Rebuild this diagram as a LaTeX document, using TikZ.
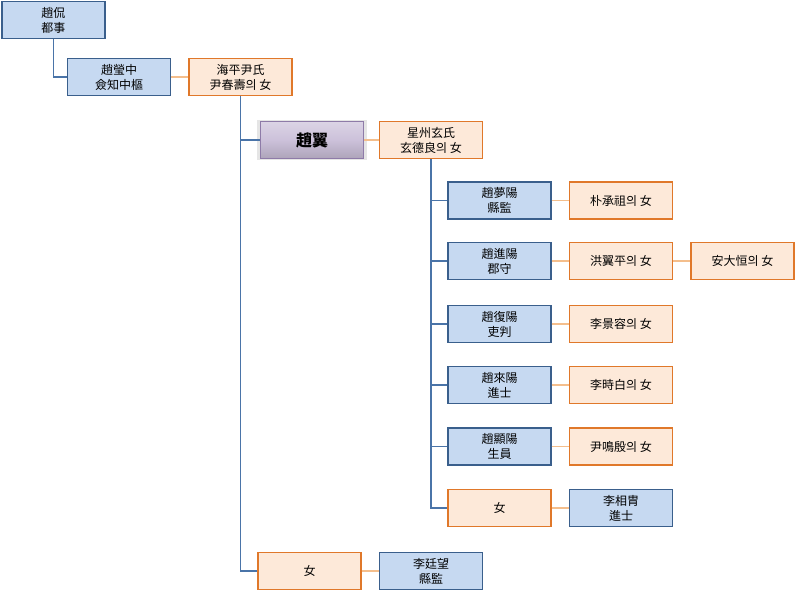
\documentclass[tikz,border=0pt]{standalone}
\usepackage{fontspec}
\setmainfont{Noto Sans CJK KR}
\usetikzlibrary{shadows,calc}
\definecolor{bfill}{HTML}{C6D9F1}
\definecolor{bdraw}{HTML}{3A5F8C}
\definecolor{ofill}{HTML}{FDE9D9}
\definecolor{odraw}{HTML}{E0782A}
\definecolor{bline}{HTML}{4A74A8}
\definecolor{oline}{HTML}{F4BE8C}
\definecolor{pfill}{HTML}{CCC1DA}
\definecolor{pdraw}{HTML}{8E7BA8}
\tikzset{
  box/.style={minimum width=103pt, minimum height=37pt, align=center, inner sep=1pt,
    font=\fontsize{12}{15}\selectfont, line width=1.4pt},
  bbox/.style={box, fill=bfill, draw=bdraw},
  obox/.style={box, fill=ofill, draw=odraw},
  pbox/.style={box, top color=pfill!70!white, bottom color=pfill!85!black, middle color=pfill, draw=pdraw,
    font=\fontsize{16}{18}\selectfont\bfseries, line width=1.4pt,
    drop shadow={shadow xshift=0pt, shadow yshift=0pt, opacity=0.25, fill=black!40, shadow scale=1.06}},
  bl/.style={draw=bline, line width=1.6pt},
  ol/.style={draw=oline, line width=1.6pt},
}
\begin{document}
\begin{tikzpicture}[x=1pt,y=-1pt]
\useasboundingbox[fill=white] (0,0) rectangle (796,591);
\node[bbox] (kan) at (53.5,20) {趙侃\\都事};
\node[bbox] (yeong) at (119,77) {趙瑩中\\僉知中樞};
\node[obox] (yun) at (240.5,77) {海平尹氏\\尹春壽의 女};
\node[pbox] (ik) at (312,140) {趙翼};
\node[obox] (hyeon) at (431,140) {星州玄氏\\玄德良의 女};
\node[bbox] (c1) at (499.5,200.5) {趙夢陽\\縣監};
\node[obox] (s1) at (621,200.5) {朴承祖의 女};
\node[bbox] (c2) at (499.5,261) {趙進陽\\郡守};
\node[obox] (s2) at (621,261) {洪翼平의 女};
\node[obox] (s2b) at (742.5,261) {安大恒의 女};
\node[bbox] (c3) at (499.5,324) {趙復陽\\吏判};
\node[obox] (s3) at (621,324) {李景容의 女};
\node[bbox] (c4) at (499.5,385) {趙來陽\\進士};
\node[obox] (s4) at (621,385) {李時白의 女};
\node[bbox] (c5) at (499.5,446.5) {趙顯陽\\生員};
\node[obox] (s5) at (621,446.5) {尹鳴殷의 女};
\node[obox] (c6) at (499.5,508) {女};
\node[bbox] (s6) at (621,508) {李相胄\\進士};
\node[obox] (d) at (309.5,571) {女};
\node[bbox] (sd) at (431,571) {李廷望\\縣監};
% connectors
\draw[bl] (kan.south) |- (yeong.west);
\draw[ol] (yeong.east) -- (yun.west);
\coordinate (ya) at (yun.south);
\draw[bl] (ya) |- (ik.west);
\draw[bl] (ya) |- (d.west);
\draw[ol] (ik.east) -- (hyeon.west);
\draw[ol] (d.east) -- (sd.west);
\coordinate (ha) at (hyeon.south);
\foreach \c/\s in {c1/s1,c2/s2,c3/s3,c4/s4,c5/s5,c6/s6}{
  \draw[bl] (ha) |- (\c.west);
  \draw[ol] (\c.east) -- (\s.west);
}
\draw[ol] (s2.east) -- (s2b.west);
\end{tikzpicture}
\end{document}
